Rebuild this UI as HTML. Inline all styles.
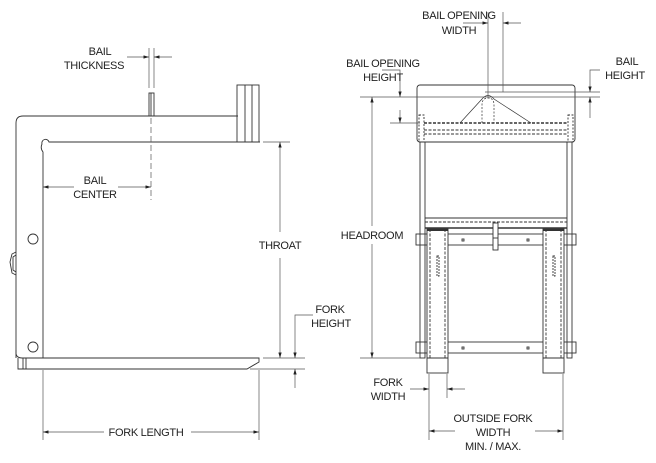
<!DOCTYPE html>
<html><head><style>
html,body{margin:0;padding:0;background:#fff;}
svg{display:block;}
text{font-family:"Liberation Sans",sans-serif;font-size:11px;fill:#222;text-anchor:middle;letter-spacing:-0.3px;}
</style></head><body>
<svg width="656" height="463" viewBox="0 0 656 463" xmlns="http://www.w3.org/2000/svg">
<defs>
<marker id="a" viewBox="0 0 10 6" refX="10" refY="3" markerWidth="8" markerHeight="5" orient="auto-start-reverse"><path d="M0,0L10,3L0,6z" fill="#222"/></marker>
</defs>
<g fill="none" stroke="#333" stroke-width="0.9">
<!-- LEFT VIEW -->
<path d="M16,358 L16,123 Q16,116 23,116 L238,116"/>
<path d="M43,358 L43,152 Q40,148 42,144 A3,3 0 0 1 49,142 L260,142"/>
<rect x="149" y="93" width="5" height="23"/>
<line x1="151" y1="93" x2="151" y2="116"/>
<rect x="237" y="85" width="22" height="57"/>
<line x1="245" y1="85" x2="245" y2="142"/><line x1="252" y1="85" x2="252" y2="142"/>
<circle cx="33" cy="239" r="5"/><circle cx="33" cy="347" r="5"/>
<path d="M16,252 L12,254 L10,262 L12,273 L16,275"/><path d="M16,255 L13,257 L13,270 L16,272"/>
<path d="M16,350 L16,354 Q17,358 22,358 L43,358"/>
<path d="M43,358 L259,358 L259,362 L247,369 L18,369 L18,358"/>
<line x1="23" y1="358" x2="23" y2="369"/><line x1="26" y1="358" x2="26" y2="369"/>
<!-- RIGHT VIEW -->
<rect x="417" y="85" width="158" height="57" rx="3"/>
<path d="M460,123 L482,99 Q488,92 494,99 L531,123" stroke-width="0.7"/>
<path d="M482,123 L482,105 Q482,98 488,98 Q494,98 494,105 L494,123" stroke-dasharray="2,1.5" stroke-width="0.7"/>
<line x1="424" y1="123" x2="568" y2="123" stroke-dasharray="3,1.5" stroke-width="1.6"/>
<line x1="424" y1="130" x2="568" y2="130" stroke-dasharray="3,1.5"/>
<line x1="424" y1="134" x2="568" y2="134" stroke-dasharray="3,1.5"/>
<rect x="419" y="115" width="5" height="27" stroke-dasharray="2,1.5"/>
<rect x="568" y="115" width="5" height="27" stroke-dasharray="2,1.5"/>
<rect x="420" y="142" width="5" height="216"/>
<rect x="567" y="142" width="5" height="216"/>
<line x1="425" y1="218" x2="567" y2="218"/>
<line x1="425" y1="222" x2="567" y2="222" stroke-dasharray="3,1.5"/>
<line x1="425" y1="228" x2="567" y2="228" stroke-width="1.5"/>
<rect x="416" y="234" width="160" height="11"/>
<rect x="416" y="342" width="160" height="11"/>
<rect x="493" y="223" width="5" height="27" fill="#fff"/>
<line x1="493" y1="238" x2="498" y2="238"/>
<rect x="427" y="229" width="21" height="144" fill="#fff"/>
<line x1="430" y1="229" x2="430" y2="358" stroke-dasharray="3,1.5"/>
<line x1="445" y1="229" x2="445" y2="358" stroke-dasharray="3,1.5"/>
<line x1="427" y1="358" x2="448" y2="358"/>
<rect x="543" y="229" width="21" height="144" fill="#fff"/>
<line x1="546" y1="229" x2="546" y2="358" stroke-dasharray="3,1.5"/>
<line x1="561" y1="229" x2="561" y2="358" stroke-dasharray="3,1.5"/>
<line x1="543" y1="358" x2="564" y2="358"/>
<line x1="427" y1="230" x2="448" y2="230" stroke-width="2"/>
<line x1="543" y1="230" x2="564" y2="230" stroke-width="2"/>
<rect x="437" y="256" width="2" height="20" stroke-dasharray="2,1"/>
<rect x="553" y="256" width="2" height="20" stroke-dasharray="2,1"/>
<rect x="462" y="239" width="2" height="2"/><rect x="527" y="239" width="2" height="2"/>
<rect x="462" y="347" width="2" height="2"/><rect x="527" y="347" width="2" height="2"/>
</g>
<!-- DIMENSIONS -->
<g fill="none" stroke="#555" stroke-width="0.7">
<line x1="151" y1="118" x2="151" y2="200" stroke-dasharray="6,3"/>
<line x1="149" y1="48" x2="149" y2="88"/><line x1="154" y1="48" x2="154" y2="88"/>
<line x1="127" y1="57" x2="149" y2="57" marker-end="url(#a)"/>
<line x1="172" y1="57" x2="154" y2="57" marker-end="url(#a)"/>
<line x1="74" y1="187" x2="43" y2="187" marker-end="url(#a)"/>
<line x1="118" y1="187" x2="151" y2="187" marker-end="url(#a)"/>
<line x1="263" y1="142" x2="290" y2="142"/>
<line x1="263" y1="358" x2="305" y2="358"/>
<line x1="250" y1="369" x2="305" y2="369"/>
<line x1="280" y1="232" x2="280" y2="142" marker-end="url(#a)"/>
<line x1="280" y1="258" x2="280" y2="358" marker-end="url(#a)"/>
<path d="M313,315 L295,315 L295,358" marker-end="url(#a)"/>
<line x1="295" y1="388" x2="295" y2="369" marker-end="url(#a)"/>
<line x1="43" y1="370" x2="43" y2="440"/><line x1="259" y1="370" x2="259" y2="440"/>
<line x1="104" y1="432" x2="43" y2="432" marker-end="url(#a)"/>
<line x1="191" y1="432" x2="259" y2="432" marker-end="url(#a)"/>
<!-- right -->
<line x1="488" y1="12" x2="488" y2="97"/><line x1="503" y1="12" x2="503" y2="92"/>
<line x1="463" y1="23" x2="488" y2="23" marker-end="url(#a)"/>
<line x1="521" y1="23" x2="503" y2="23" marker-end="url(#a)"/>
<line x1="360" y1="97" x2="600" y2="97"/>
<line x1="485" y1="92" x2="600" y2="92"/>
<path d="M600,70 L590,70 L590,92" marker-end="url(#a)"/>
<line x1="590" y1="118" x2="590" y2="97" marker-end="url(#a)"/>
<path d="M382,70 L400,70 L400,97" marker-end="url(#a)"/>
<line x1="400" y1="110" x2="400" y2="123" marker-end="url(#a)"/>
<line x1="390" y1="123" x2="420" y2="123"/>
<line x1="360" y1="358" x2="420" y2="358"/>
<line x1="372" y1="226" x2="372" y2="97" marker-end="url(#a)"/>
<line x1="372" y1="244" x2="372" y2="358" marker-end="url(#a)"/>
<line x1="429" y1="374" x2="429" y2="440"/><line x1="447" y1="374" x2="447" y2="398"/>
<line x1="563" y1="374" x2="563" y2="440"/>
<line x1="410" y1="389" x2="429" y2="389" marker-end="url(#a)"/>
<line x1="465" y1="389" x2="447" y2="389" marker-end="url(#a)"/>
<line x1="455" y1="431" x2="429" y2="431" marker-end="url(#a)"/>
<line x1="535" y1="431" x2="563" y2="431" marker-end="url(#a)"/>
</g>
<text x="100" y="55">BAIL</text><text x="94" y="69">THICKNESS</text>
<text x="95" y="184">BAIL</text><text x="95" y="198">CENTER</text>
<text x="280" y="249">THROAT</text>
<text x="330" y="313">FORK</text><text x="331" y="327">HEIGHT</text>
<text x="146" y="436">FORK LENGTH</text>
<text x="459" y="19">BAIL OPENING</text><text x="459" y="34">WIDTH</text>
<text x="383" y="67">BAIL OPENING</text><text x="383" y="81">HEIGHT</text>
<text x="627" y="65">BAIL</text><text x="625" y="79">HEIGHT</text>
<text x="372" y="239">HEADROOM</text>
<text x="388" y="386">FORK</text><text x="388" y="400">WIDTH</text>
<text x="493" y="422">OUTSIDE FORK</text><text x="493" y="436">WIDTH</text><text x="493" y="450">MIN. / MAX.</text>
</svg>
</body></html>
